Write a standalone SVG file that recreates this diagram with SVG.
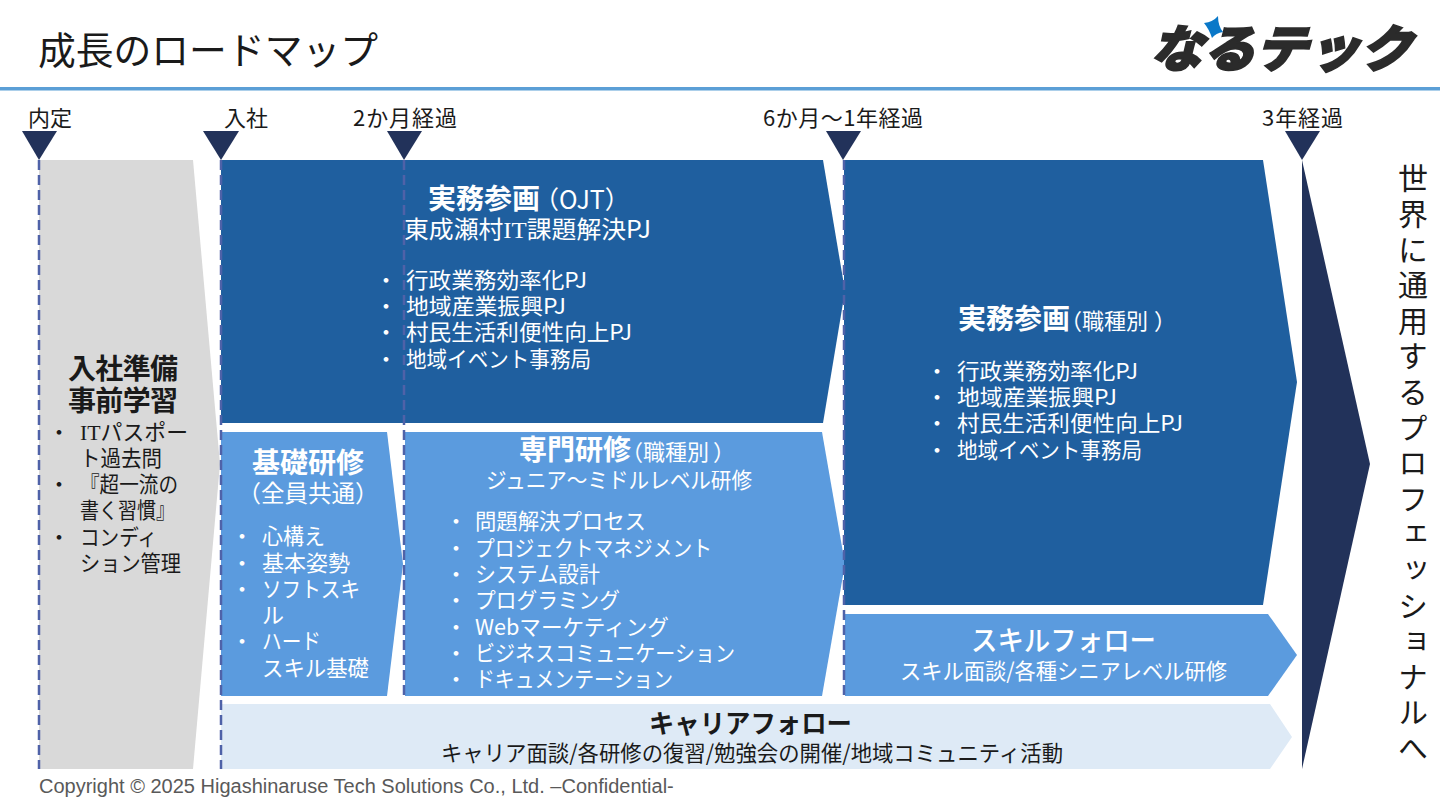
<svg xmlns="http://www.w3.org/2000/svg" width="1440" height="810" viewBox="0 0 1440 810">
<style>
text{font-family:"Noto Sans CJK JP","Noto Sans",sans-serif;fill:#1a1a1a}
.w{fill:#fff}
.b{font-weight:700;font-size:28px}
.l{font-size:22px}
.m{font-size:24px;text-anchor:middle}
.r{font-weight:400;font-size:25px}
.p{font-weight:400;font-size:22px}
.s{font-family:"Liberation Serif","Noto Sans CJK JP",serif}
.dash{stroke:#4f62a8;stroke-width:2.5;stroke-dasharray:10 5;fill:none}
.tri{fill:#22325a}
.dk{fill:#1f5f9f}
.md{fill:#5b9bde}
</style>
<rect width="1440" height="810" fill="#fff"/>
<g id="header">
<text x="38" y="64" style="font-size:38px" textLength="340" lengthAdjust="spacingAndGlyphs">成長のロードマップ</text>
<rect x="0" y="87" width="1440" height="3.5" fill="#5b9fd6"/>
</g>
<g id="logo">
<text transform="translate(1150 67) skewX(-16)" style="font-size:50px;font-weight:900;fill:#2b2b2b;stroke:#2b2b2b;stroke-width:2" textLength="262" lengthAdjust="spacingAndGlyphs">なるテック</text>
<path d="M1218,16 Q1218,26 1223,32 Q1216,33 1212,38 Q1209,29 1204,23 Q1213,22 1218,16Z" fill="#0a78c8"/>
</g>
<g id="n-gray"><polygon points="39,160 193,160 220,464 193,769 39,769" fill="#d9d9d9"/>
<text class="b" text-anchor="middle" x="123" y="379" textLength="110">入社準備</text>
<text class="b" text-anchor="middle" x="123" y="411" textLength="110">事前学習</text>
<text class="l" x="48" y="440">・</text><text class="l" x="80" y="440" textLength="108" lengthAdjust="spacingAndGlyphs"><tspan class="s">IT</tspan>パスポー</text>
<text class="l" x="80" y="466" textLength="82" lengthAdjust="spacingAndGlyphs">ト過去問</text>
<text class="l" x="48" y="492">・</text><text class="l" x="80" y="492" textLength="98" lengthAdjust="spacingAndGlyphs">『超一流の</text>
<text class="l" x="80" y="518" textLength="95" lengthAdjust="spacingAndGlyphs">書く習慣』</text>
<text class="l" x="48" y="545">・</text><text class="l" x="80" y="545" textLength="77" lengthAdjust="spacingAndGlyphs">コンディ</text>
<text class="l" x="80" y="571" textLength="101" lengthAdjust="spacingAndGlyphs">ション管理</text>
</g>
<g id="n-ojt"><polygon class="dk" points="221,160 823,160 845,291 823,423 221,423"/>
<text class="w b" x="428" y="209">実務参画<tspan class="r" dx="-6">（OJT）</tspan></text>
<text class="w l" x="404" y="238" style="font-size:24px" textLength="247" lengthAdjust="spacingAndGlyphs">東成瀬村<tspan class="s">IT</tspan>課題解決PJ</text>
<text class="w l" x="375" y="288">・</text><text class="w l" x="406" y="288" textLength="181" lengthAdjust="spacingAndGlyphs">行政業務効率化PJ</text>
<text class="w l" x="375" y="314">・</text><text class="w l" x="406" y="314" textLength="160" lengthAdjust="spacingAndGlyphs">地域産業振興PJ</text>
<text class="w l" x="375" y="340">・</text><text class="w l" x="406" y="340" textLength="226" lengthAdjust="spacingAndGlyphs">村民生活利便性向上PJ</text>
<text class="w l" x="375" y="367">・</text><text class="w l" x="406" y="367" textLength="185" lengthAdjust="spacingAndGlyphs">地域イベント事務局</text>
</g>
<g id="n-kiso"><polygon class="md" points="221,432 387,432 403,564 387,696 221,696"/>
<text class="w b" text-anchor="middle" x="308" y="473">基礎研修</text>
<text class="w m" x="308" y="502" style="font-size:23.5px">（全員共通）</text>
<text class="w l" x="231" y="544">・</text><text class="w l" x="262" y="544" textLength="63" lengthAdjust="spacingAndGlyphs">心構え</text>
<text class="w l" x="231" y="571">・</text><text class="w l" x="262" y="571" textLength="88" lengthAdjust="spacingAndGlyphs">基本姿勢</text>
<text class="w l" x="231" y="597">・</text><text class="w l" x="262" y="597" textLength="98" lengthAdjust="spacingAndGlyphs">ソフトスキ</text>
<text class="w l" x="262" y="623">ル</text>
<text class="w l" x="231" y="649">・</text><text class="w l" x="262" y="649" textLength="59" lengthAdjust="spacingAndGlyphs">ハード</text>
<text class="w l" x="262" y="676" textLength="107" lengthAdjust="spacingAndGlyphs">スキル基礎</text>
</g>
<g id="n-senmon"><polygon class="md" points="405,432 822,432 845,564 822,696 405,696"/>
<text class="w b" x="519" y="460">専門研修<tspan class="p" dx="-10">（職種別</tspan><tspan class="p" dx="4">）</tspan></text>
<text class="w l" x="486" y="488" textLength="266" lengthAdjust="spacingAndGlyphs">ジュニア～ミドルレベル研修</text>
<text class="w l" x="445" y="529">・</text><text class="w l" x="475" y="529" textLength="171" lengthAdjust="spacingAndGlyphs">問題解決プロセス</text>
<text class="w l" x="445" y="556">・</text><text class="w l" x="475" y="556" textLength="237" lengthAdjust="spacingAndGlyphs">プロジェクトマネジメント</text>
<text class="w l" x="445" y="582">・</text><text class="w l" x="475" y="582" textLength="125" lengthAdjust="spacingAndGlyphs">システム設計</text>
<text class="w l" x="445" y="608">・</text><text class="w l" x="475" y="608" textLength="145" lengthAdjust="spacingAndGlyphs">プログラミング</text>
<text class="w l" x="445" y="635">・</text><text class="w l" x="475" y="635" textLength="194" lengthAdjust="spacingAndGlyphs">Webマーケティング</text>
<text class="w l" x="445" y="661">・</text><text class="w l" x="475" y="661" textLength="260" lengthAdjust="spacingAndGlyphs">ビジネスコミュニケーション</text>
<text class="w l" x="445" y="687">・</text><text class="w l" x="475" y="687" textLength="198" lengthAdjust="spacingAndGlyphs">ドキュメンテーション</text>
</g>
<g id="n-shokushu"><polygon class="dk" points="844,160 1263,160 1297,382 1263,605 844,605"/>
<text class="w b" x="958" y="329">実務参画<tspan class="p" dx="-10">（職種別</tspan><tspan class="p" dx="6">）</tspan></text>
<text class="w l" x="926" y="379">・</text><text class="w l" x="957" y="379" textLength="181" lengthAdjust="spacingAndGlyphs">行政業務効率化PJ</text>
<text class="w l" x="926" y="405">・</text><text class="w l" x="957" y="405" textLength="160" lengthAdjust="spacingAndGlyphs">地域産業振興PJ</text>
<text class="w l" x="926" y="431">・</text><text class="w l" x="957" y="431" textLength="226" lengthAdjust="spacingAndGlyphs">村民生活利便性向上PJ</text>
<text class="w l" x="926" y="458">・</text><text class="w l" x="957" y="458" textLength="185" lengthAdjust="spacingAndGlyphs">地域イベント事務局</text>
</g>
<g id="n-skill"><polygon class="md" points="845,614 1268,614 1297,655 1268,696 845,696"/>
<text class="w" x="971" y="651" style="font-size:28px;font-weight:500" textLength="185" lengthAdjust="spacingAndGlyphs">スキルフォロー</text>
<text class="w l" x="900" y="679" textLength="327" lengthAdjust="spacingAndGlyphs">スキル面談/各種シニアレベル研修</text>
</g>
<g id="n-career"><polygon points="221,704 1270,704 1292,737 1270,769 221,769" fill="#deeaf6"/>
<text x="649" y="733" style="font-size:26px;font-weight:700" textLength="203" lengthAdjust="spacingAndGlyphs">キャリアフォロー</text>
<text class="l" x="441" y="761" textLength="622" lengthAdjust="spacingAndGlyphs">キャリア面談/各研修の復習/勉強会の開催/地域コミュニティ活動</text>
</g>
<g id="n-goal"><polygon class="tri" points="1302,160 1370,464 1302,769"/>
<text x="1413" y="163" style="font-size:30px;writing-mode:vertical-rl;letter-spacing:5.6px">世界に通用するプロフェッショナルへ</text>
</g>
<g id="connectors">
<line class="dash" x1="39" y1="160" x2="39" y2="769"/>
<line class="dash" x1="221" y1="160" x2="221" y2="769"/>
<line class="dash" x1="404" y1="160" x2="404" y2="700"/>
<line class="dash" x1="844" y1="160" x2="844" y2="700"/>
</g>
<g id="m-naitei"><polygon class="tri" points="22,131 57,131 39,160"/><text class="l" x="28" y="126">内定</text></g>
<g id="m-nyusha"><polygon class="tri" points="203,131 239,131 221,160"/><text class="l" x="224" y="126">入社</text></g>
<g id="m-2m"><polygon class="tri" points="387,131 422,131 404,160"/><text class="l" x="353" y="126" textLength="104" lengthAdjust="spacing">2か月経過</text></g>
<g id="m-6m"><polygon class="tri" points="826,131 861,131 843,160"/><text class="l" x="763" y="126" textLength="160" lengthAdjust="spacing">6か月～1年経過</text></g>
<g id="m-3y"><polygon class="tri" points="1285,131 1320,131 1302,160"/><text class="l" x="1262" y="126" textLength="81" lengthAdjust="spacing">3年経過</text></g>
<g id="footer"><text x="39" y="793" style="font-family:'Liberation Sans',sans-serif;font-size:20px;fill:#595959">Copyright © 2025 Higashinaruse Tech Solutions Co., Ltd. –Confidential-</text></g>
</svg>
